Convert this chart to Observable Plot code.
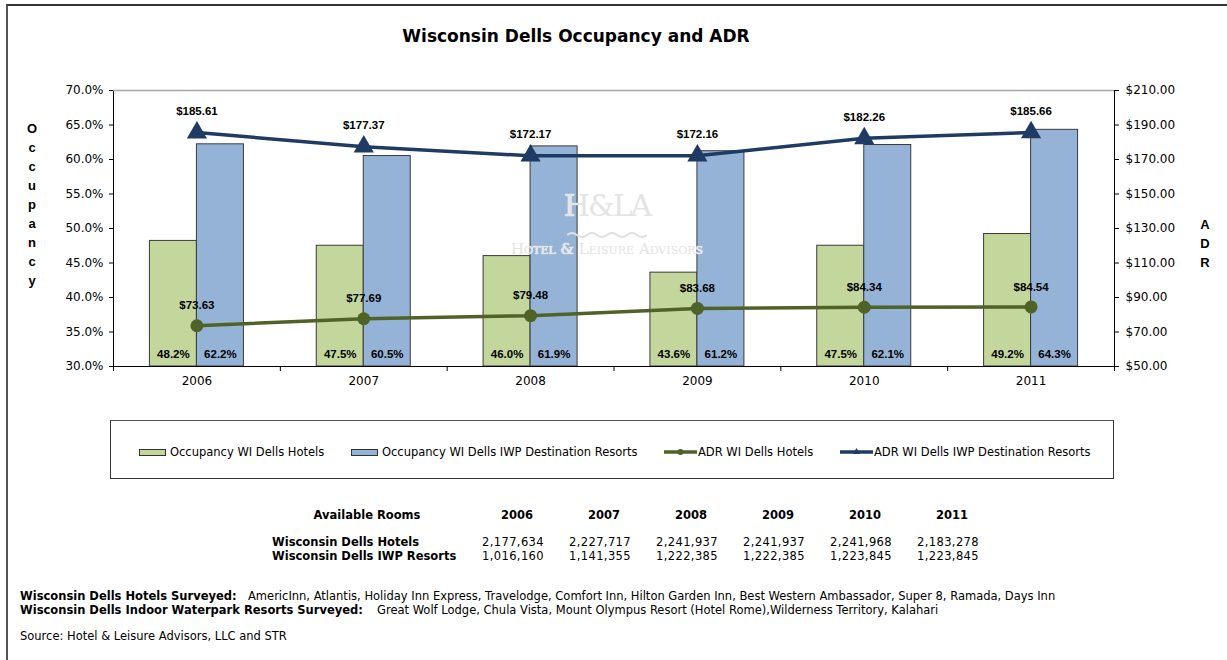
<!DOCTYPE html>
<html><head><meta charset="utf-8">
<script src="https://cdn.jsdelivr.net/npm/d3@7"></script>
<script src="https://cdn.jsdelivr.net/npm/@observablehq/plot@0.6"></script>
<style>
body{margin:0;background:#fff;}
#wrap{position:relative;width:1227px;height:660px;overflow:hidden;font-family:"DejaVu Sans",Verdana,sans-serif;color:#000;background:#fff;}
#border{position:absolute;left:6px;top:4px;width:1300px;height:700px;border-left:2px solid #555;border-top:2px solid #333;}
#chart{position:absolute;left:0;top:0;}
#title{position:absolute;left:0;top:26px;width:1152px;text-align:center;font:bold 17px "DejaVu Sans",Verdana,sans-serif;}
.vlab{position:absolute;width:20px;text-align:center;font:bold 13px "Liberation Sans",Arial,sans-serif;line-height:19px;}
.wm{position:absolute;text-align:center;color:#e4e4e4;font-family:"DejaVu Serif","Liberation Serif",serif;text-shadow:0 0 1px #fff,0 0 1px #fff;}
#legend{position:absolute;left:110px;top:420px;width:1002px;height:57px;border:1px solid #333;border-top-color:#555;}
.li{position:absolute;top:24px;font:11.5px "DejaVu Sans",Verdana,sans-serif;white-space:nowrap;display:flex;align-items:center;height:14px;}
.sw{display:inline-block;width:25px;height:5px;border:1px solid #333;margin-right:4px;}
.ls{display:inline-block;margin-right:1px;}
.tbl{position:absolute;font:11.5px "DejaVu Sans",Verdana,sans-serif;white-space:nowrap;}
.foot{position:absolute;font:11.5px "DejaVu Sans",Verdana,sans-serif;white-space:nowrap;}
.num{font-size:11.5px;letter-spacing:0.4px;}
.b{font-weight:bold;}
</style></head>
<body>
<div id="wrap">
<div id="border"></div>
<div id="chart"></div>
<div id="title"></div>
</div>
<script>
// ---- data ----
const chartTitle = "Wisconsin Dells Occupancy and ADR";
const years = ["2006","2007","2008","2009","2010","2011"];
const occHotels = [48.2, 47.5, 46.0, 43.6, 47.5, 49.2];
const occResorts = [62.2, 60.5, 61.9, 61.2, 62.1, 64.3];
const adrHotels = [73.63, 77.69, 79.48, 83.68, 84.34, 84.54];
const adrResorts = [185.61, 177.37, 172.17, 172.16, 182.26, 185.66];
const occTicks = [30, 35, 40, 45, 50, 55, 60, 65, 70];
const adrTicks = [50, 70, 90, 110, 130, 150, 170, 190, 210];
const seriesNames = ["Occupancy WI Dells Hotels", "Occupancy WI Dells IWP Destination Resorts", "ADR WI Dells Hotels", "ADR WI Dells IWP Destination Resorts"];
const tableHeader = "Available Rooms";
const roomRowNames = ["Wisconsin Dells Hotels", "Wisconsin Dells IWP Resorts"];
const roomsHotels = [2177634, 2227717, 2241937, 2241937, 2241968, 2183278];
const roomsResorts = [1016160, 1141355, 1222385, 1222385, 1223845, 1223845];
const footLabels = ["Wisconsin Dells Hotels Surveyed:", "Wisconsin Dells Indoor Waterpark Resorts Surveyed:"];
const footTexts = ["AmericInn, Atlantis, Holiday Inn Express, Travelodge, Comfort Inn, Hilton Garden Inn, Best Western Ambassador, Super 8, Ramada, Days Inn",
  "Great Wolf Lodge, Chula Vista, Mount Olympus Resort (Hotel Rome),Wilderness Territory, Kalahari"];
const sourceText = "Source: Hotel & Leisure Advisors, LLC and STR";

// ---- colors ----
const cGreen = "#c3d69b", cBlue = "#95b3d7", cGreenLine = "#4f6228", cBlueLine = "#1f3b63";

// ---- chart ----
const W = 1227, H = 400, mL = 113, mR = 113, mT = 90, mB = 34;
const step = (W - mL - mR) / years.length;
const bw = 94;
const pad = 1 - bw / step;
// ADR secondary axis mapped onto occupancy scale
const a0 = adrTicks[0], a1 = adrTicks[adrTicks.length-1], o0 = occTicks[0], o1 = occTicks[occTicks.length-1];
const adrToOcc = v => o0 + (v - a0) * (o1 - o0) / (a1 - a0);
const occToAdr = v => a0 + (v - o0) * (a1 - a0) / (o1 - o0);

const rows = years.map((y, i) => ({year: y, occH: occHotels[i], occR: occResorts[i], adrH: adrHotels[i], adrR: adrResorts[i]}));
const lblFont = {fontFamily: "Liberation Sans, Arial, sans-serif", fontWeight: "bold", fontSize: 11.5, fill: "#000"};

const plot = Plot.plot({
  width: W, height: H, marginLeft: mL, marginRight: mR, marginTop: mT, marginBottom: mB,
  x: {type: "band", domain: years, paddingInner: pad, paddingOuter: pad / 2, align: 0.5, round: false, axis: null},
  y: {domain: [o0, o1], axis: null},
  style: {fontFamily: "DejaVu Sans, Verdana, sans-serif", fontSize: "12px", color: "#000", background: "transparent", overflow: "visible"},
  marks: [
    Plot.barY(rows, {x: "year", y1: o0, y2: "occH", fill: cGreen, stroke: "#3a3a3a", strokeWidth: 1, insetRight: bw / 2}),
    Plot.barY(rows, {x: "year", y1: o0, y2: "occR", fill: cBlue, stroke: "#3a3a3a", strokeWidth: 1, insetLeft: bw / 2}),
    Plot.frame({stroke: "#000"}),
    Plot.ruleY([o1], {stroke: "#a6a6a6", strokeWidth: 1.5}),
    Plot.line(rows, {x: "year", y: d => adrToOcc(d.adrH), stroke: cGreenLine, strokeWidth: 3.5}),
    Plot.dot(rows, {x: "year", y: d => adrToOcc(d.adrH), r: 6.5, fill: cGreenLine, stroke: "none"}),
    Plot.line(rows, {x: "year", y: d => adrToOcc(d.adrR), stroke: cBlueLine, strokeWidth: 3.5}),
    Plot.dot(rows, {x: "year", y: d => adrToOcc(d.adrR), symbol: "triangle", r: 7.5, fill: cBlueLine, stroke: "none"}),
    Plot.text(rows, {x: "year", y: d => adrToOcc(d.adrH), text: d => "$" + d.adrH.toFixed(2), dy: -20, ...lblFont}),
    Plot.text(rows, {x: "year", y: d => adrToOcc(d.adrR), text: d => "$" + d.adrR.toFixed(2), dy: -21, ...lblFont}),
    Plot.text(rows, {x: "year", y: o0, text: d => d.occH.toFixed(1) + "%", dx: -bw / 4, dy: -12, ...lblFont}),
    Plot.text(rows, {x: "year", y: o0, text: d => d.occR.toFixed(1) + "%", dx: bw / 4, dy: -12, ...lblFont}),
    Plot.axisY({anchor: "left", ticks: occTicks, tickFormat: d => d.toFixed(1) + "%", tickSize: 4, tickPadding: 6, label: null}),
    Plot.axisY({anchor: "right", ticks: occTicks, tickFormat: d => "$" + occToAdr(d).toFixed(2), tickSize: 4, tickPadding: 7, label: null}),
    Plot.axisX({ticks: years, tickSize: 0, tickPadding: 10, label: null}),
    Plot.axisX({ticks: years, tickSize: 5, tickFormat: () => "", dx: step / 2, label: null}),
    Plot.axisX({ticks: [years[0]], tickSize: 5, tickFormat: () => "", dx: -step / 2, label: null})
  ]
});
document.getElementById("chart").appendChild(plot);
document.getElementById("title").textContent = chartTitle;

const wrap = document.getElementById("wrap");
function add(cls, html, style) {
  const d = document.createElement("div");
  d.className = cls; d.innerHTML = html; Object.assign(d.style, style); wrap.appendChild(d); return d;
}
// vertical axis titles
add("vlab", "Occupancy".split("").join("<br>"), {left: "22px", top: "119px"});
add("vlab", "ADR".split("").join("<br>"), {left: "1195px", top: "215px"});
// watermark
add("wm", "H&amp;LA", {left: "527px", top: "188px", width: "160px", fontSize: "30px", letterSpacing: "-2px"});
add("", `<svg width="80" height="8"><path d="M0,4 q5,-4 10,0 t10,0 t10,0 t10,0 t10,0 t10,0 t10,0 t10,0" fill="none" stroke="#e0e0e0" stroke-width="2"/></svg>`, {position: "absolute", left: "567px", top: "224px"});
add("wm", "H<span style='font-size:11px'>OTEL</span> &amp; L<span style='font-size:11px'>EISURE</span> A<span style='font-size:11px'>DVISORS</span>", {left: "497px", top: "240px", width: "220px", fontSize: "15px"});

// legend
const leg = add("", "", {}); leg.id = "legend";
const legPos = [28, 240, 553, 729];
const legItems = [
  `<span class="sw" style="background:${cGreen}"></span>`,
  `<span class="sw" style="background:${cBlue}"></span>`,
  `<svg class="ls" width="33" height="10"><line x1="0" y1="5" x2="33" y2="5" stroke="${cGreenLine}" stroke-width="3.5"/><circle cx="16.5" cy="5" r="3" fill="${cGreenLine}"/></svg>`,
  `<svg class="ls" width="33" height="10"><line x1="0" y1="5" x2="33" y2="5" stroke="${cBlueLine}" stroke-width="3.5"/><path d="M16.5,1 L20,7 L13,7 Z" fill="${cBlueLine}"/></svg>`
];
seriesNames.forEach((n, i) => {
  const d = document.createElement("div");
  d.className = "li"; d.style.left = legPos[i] + "px";
  d.innerHTML = legItems[i] + "<span>" + n + "</span>";
  leg.appendChild(d);
});

// table
const colX = [517, 604, 691, 778, 865, 952];
const fmt = d3.format(",");
function tcell(text, x, y, anchor, cls) {
  const d = add("tbl " + cls, text, {top: y + "px"});
  if (anchor === "middle") { d.style.left = (x - 100) + "px"; d.style.width = "200px"; d.style.textAlign = "center"; }
  else d.style.left = x + "px";
}
tcell(tableHeader, 367, 508, "middle", "b");
years.forEach((y, i) => tcell(y, colX[i], 508, "middle", "b"));
tcell(roomRowNames[0], 272, 535, "start", "b");
tcell(roomRowNames[1], 272, 549, "start", "b");
roomsHotels.forEach((v, i) => tcell(fmt(v), colX[i] - 4, 535, "middle", "num"));
roomsResorts.forEach((v, i) => tcell(fmt(v), colX[i] - 4, 549, "middle", "num"));

// footer
add("foot b", footLabels[0], {left: "20px", top: "589px"});
add("foot", footTexts[0], {left: "248px", top: "589px"});
add("foot b", footLabels[1], {left: "20px", top: "603px"});
add("foot", footTexts[1], {left: "377px", top: "603px"});
add("foot", sourceText, {left: "20px", top: "629px"});
</script>
</body></html>
